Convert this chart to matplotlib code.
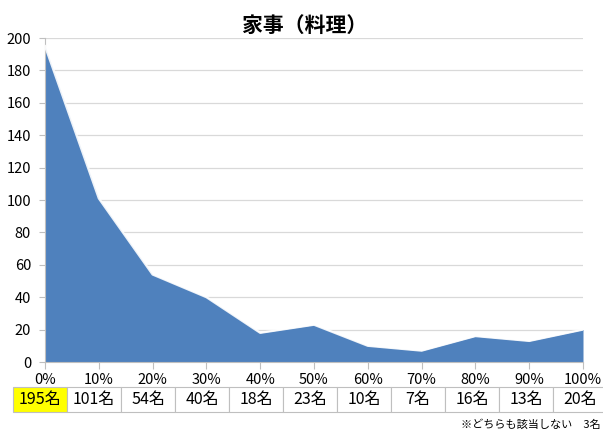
import numpy as np
import matplotlib.pyplot as plt

plt.rcParams['font.family'] = ['Noto Sans CJK JP', 'DejaVu Sans']

x_labels = ['0%', '10%', '20%', '30%', '40%', '50%', '60%', '70%', '80%', '90%', '100%']
counts = [195, 101, 54, 40, 18, 23, 10, 7, 16, 13, 20]
count_labels = [f'{c}名' for c in counts]
title = '家事（料理）'
note = '※どちらも該当しない　3名'

W, H = 603, 433
fig = plt.figure(figsize=(W / 100, H / 100), dpi=100)
ax = fig.add_axes([45 / W, 71 / H, (583 - 45) / W, (362 - 38) / H])

x = np.arange(len(counts))
ax.fill_between(x, counts, 0, color='#4F81BD', linewidth=0, zorder=2)
ax.plot(x, counts, color='white', linewidth=1.6, alpha=0.9, zorder=3)

ax.set_xlim(0, len(counts) - 1)
ax.set_ylim(0, 200)
ax.set_yticks(range(0, 201, 20))
ax.set_xticks(x)
ax.set_xticklabels(x_labels, fontsize=10.5)
ax.tick_params(axis='y', labelsize=10.5, length=4, color='#BFBFBF', pad=6)
ax.tick_params(axis='x', length=5, color='#BFBFBF', pad=3)
ax.grid(axis='y', color='#D9D9D9', linewidth=0.9, zorder=0)
for s in ['top', 'right']:
    ax.spines[s].set_visible(False)
ax.spines['left'].set_color('#BFBFBF')
ax.spines['bottom'].set_color('#BFBFBF')
ax.set_axisbelow(True)

fig.text(305 / W, 1 - 25 / H, title, ha='center', va='center', fontsize=15, fontweight='bold')

# count table under the axis
cell_w = 54
x0 = 13
y_top, y_bot = 387, 412
for i, lab in enumerate(count_labels):
    left = x0 + i * cell_w
    face = '#FFFF00' if i == 0 else 'white'
    rect = plt.Rectangle((left / W, 1 - y_bot / H), cell_w / W, (y_bot - y_top) / H,
                         transform=fig.transFigure, facecolor=face, edgecolor='#BFBFBF',
                         linewidth=0.8)
    fig.add_artist(rect)
    fig.text((left + cell_w / 2) / W, 1 - (y_top + y_bot) / 2 / H, lab,
             ha='center', va='center', fontsize=11.5)

fig.text(601 / W, 1 - 425 / H, note, ha='right', va='center', fontsize=8)

fig.savefig('out.png', dpi=100)
